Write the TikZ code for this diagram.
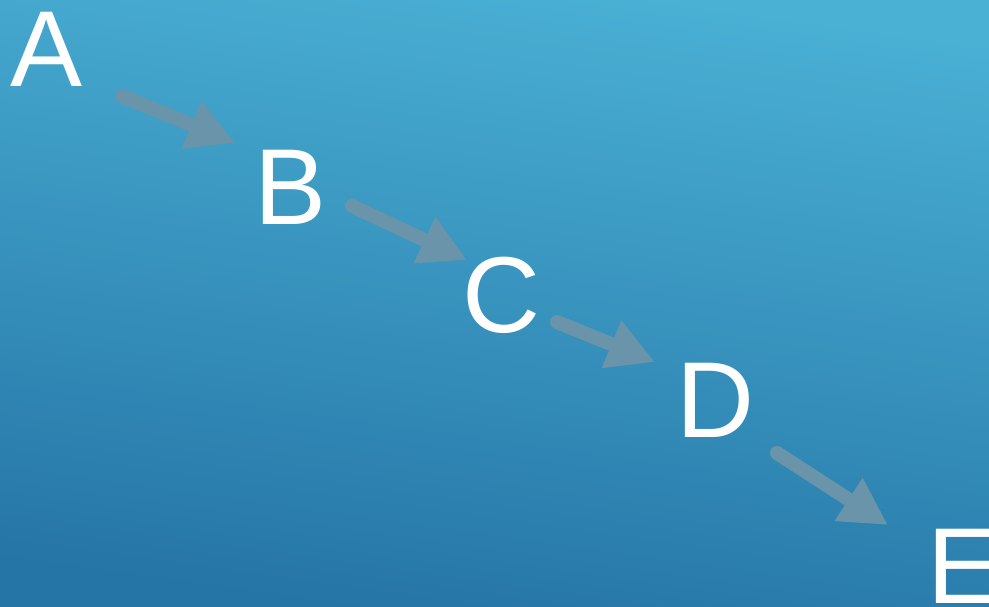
\documentclass[tikz,border=0pt]{standalone}
\usepackage{fontspec}
\setmainfont{Liberation Sans}
\usetikzlibrary{arrows.meta, calc}

\definecolor{bgtop}{RGB}{74,176,212}
\definecolor{bgbot}{RGB}{37,117,166}
\definecolor{arrowgray}{RGB}{106,148,170}

\tikzset{
  letter/.style={text=white, inner sep=0pt, font=\fontsize{108}{108}\selectfont},
  flow/.style={arrowgray, line width=14pt, line cap=round,
    -{Triangle[length=47pt, width=48pt]}}
}

\begin{document}
\begin{tikzpicture}[x=1pt, y=-1pt]
    % Hintergrund
    \useasboundingbox (0,0) rectangle (989,607);
    \shade[top color=bgtop, bottom color=bgbot, shading angle=-8] (0,0) rectangle (989,607);

    % Buchstaben
    \node[letter] (A) at (47,49) {A};
    \node[letter] (B) at (291,187) {B};
    \node[letter] (C) at (501,295) {C};
    \node[letter] (D) at (715,400) {D};
    \node[letter] (E) at (964,566) {E};

    % Pfeile
    \draw[flow] ($(A)+(75,47)$) -- ($(B)+(-56,-44)$);
    \draw[flow] ($(B)+(61,19)$) -- ($(C)+(-34,-35)$);
    \draw[flow] ($(C)+(56,27)$) -- ($(D)+(-60,-38)$);
    \draw[flow] ($(D)+(62,53)$) -- ($(E)+(-76,-41)$);
\end{tikzpicture}
\end{document}
